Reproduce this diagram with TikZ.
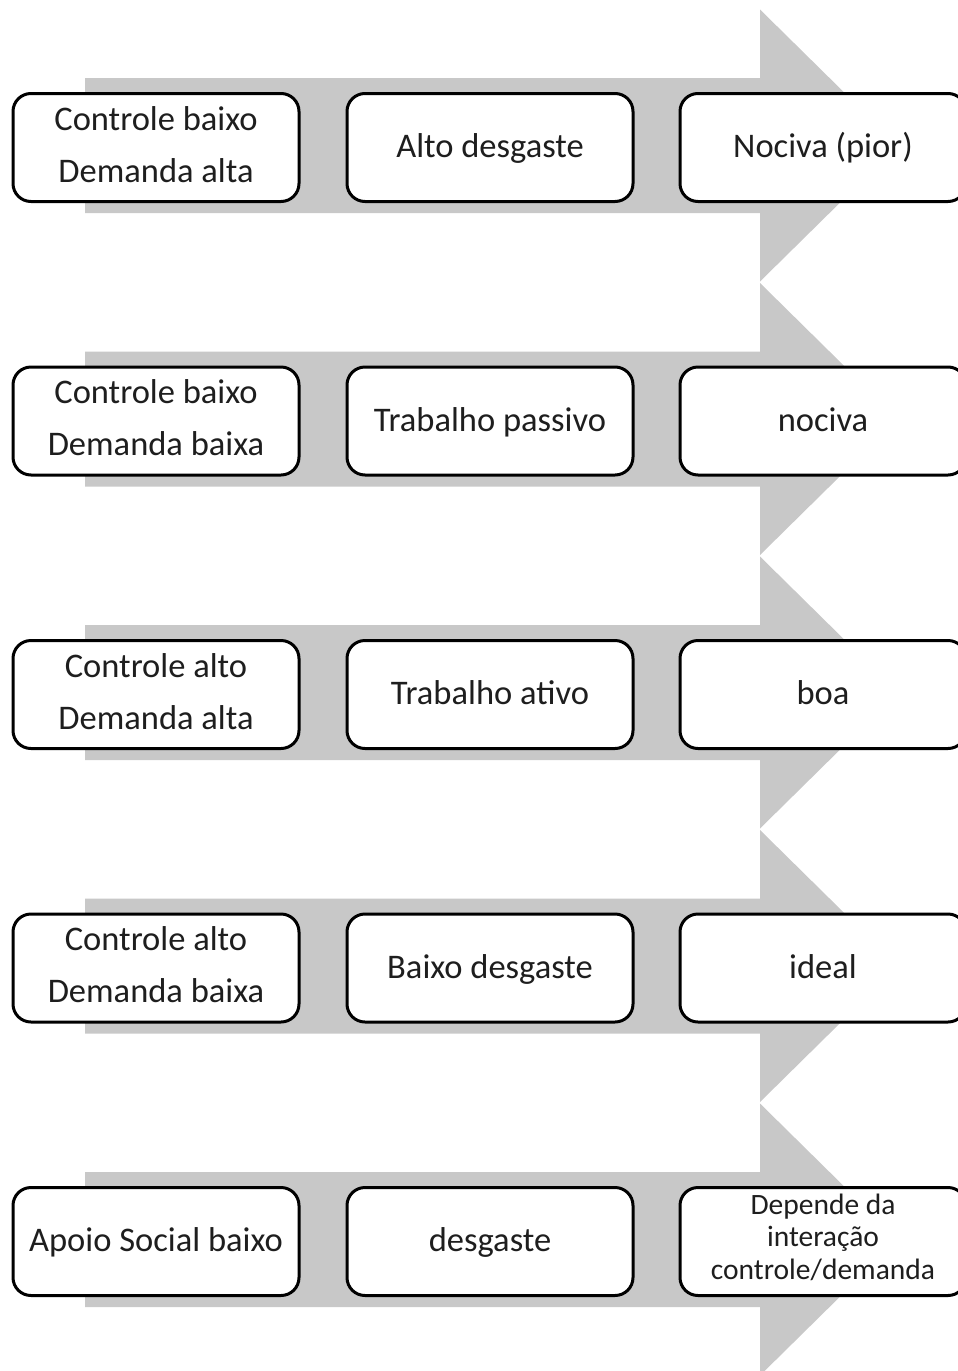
\documentclass[tikz,border=0pt]{standalone}
\usepackage{fontspec}
\setmainfont{Carlito}
\definecolor{arrowgray}{RGB}{200,200,200}
\definecolor{txt}{RGB}{30,30,30}
\newcommand{\firstline}{\rule{0pt}{32.6pt}}
\tikzset{
  stagebox/.style={draw=black, line width=3pt, fill=white, rounded corners=18pt,
    minimum width=286pt, minimum height=108pt, inner sep=0pt, align=center,
    text=txt, font=\fontsize{34.5}{52}\selectfont,
    execute at begin node=\strut, execute at end node=\strut},
  smalltext/.style={font=\fontsize{29.5}{32.5}\selectfont},
  bigarrow/.style={fill=arrowgray, draw=none}
}
\begin{document}
\begin{tikzpicture}[x=1pt,y=-1pt]
\useasboundingbox (0,0) rectangle (958,1371);
\clip (0,0) rectangle (958,1371);
\fill[white] (0,0) rectangle (958,1371);
\foreach \i in {0,...,4}{
  \pgfmathsetmacro{\cy}{145.5+273.5*\i}
  \fill[bigarrow] (85,\cy-67.5) -- (760,\cy-67.5) -- (760,\cy-136) -- (898,\cy)
     -- (760,\cy+136) -- (760,\cy+67.5) -- (85,\cy+67.5) -- cycle;
}
% row 1
\node[stagebox] (r1a) at (156,147.5) {\firstline Controle baixo\\Demanda alta};
\node[stagebox] (r1b) at (490,147.5) {Alto desgaste};
\node[stagebox] (r1c) at (823,147.5) {Nociva (pior)};
% row 2
\node[stagebox] (r2a) at (156,421) {\firstline Controle baixo\\Demanda baixa};
\node[stagebox] (r2b) at (490,421) {Trabalho passivo};
\node[stagebox] (r2c) at (823,421) {nociva};
% row 3
\node[stagebox] (r3a) at (156,694.5) {\firstline Controle alto\\Demanda alta};
\node[stagebox] (r3b) at (490,694.5) {Trabalho ativo};
\node[stagebox] (r3c) at (823,694.5) {boa};
% row 4
\node[stagebox] (r4a) at (156,968) {\firstline Controle alto\\Demanda baixa};
\node[stagebox] (r4b) at (490,968) {Baixo desgaste};
\node[stagebox] (r4c) at (823,968) {ideal};
% row 5
\node[stagebox] (r5a) at (156,1241.5) {Apoio Social baixo};
\node[stagebox] (r5b) at (490,1241.5) {desgaste};
\node[stagebox, smalltext] (r5c) at (823,1241.5) {Depende da\\interação\\controle/demanda};
\end{tikzpicture}
\end{document}
